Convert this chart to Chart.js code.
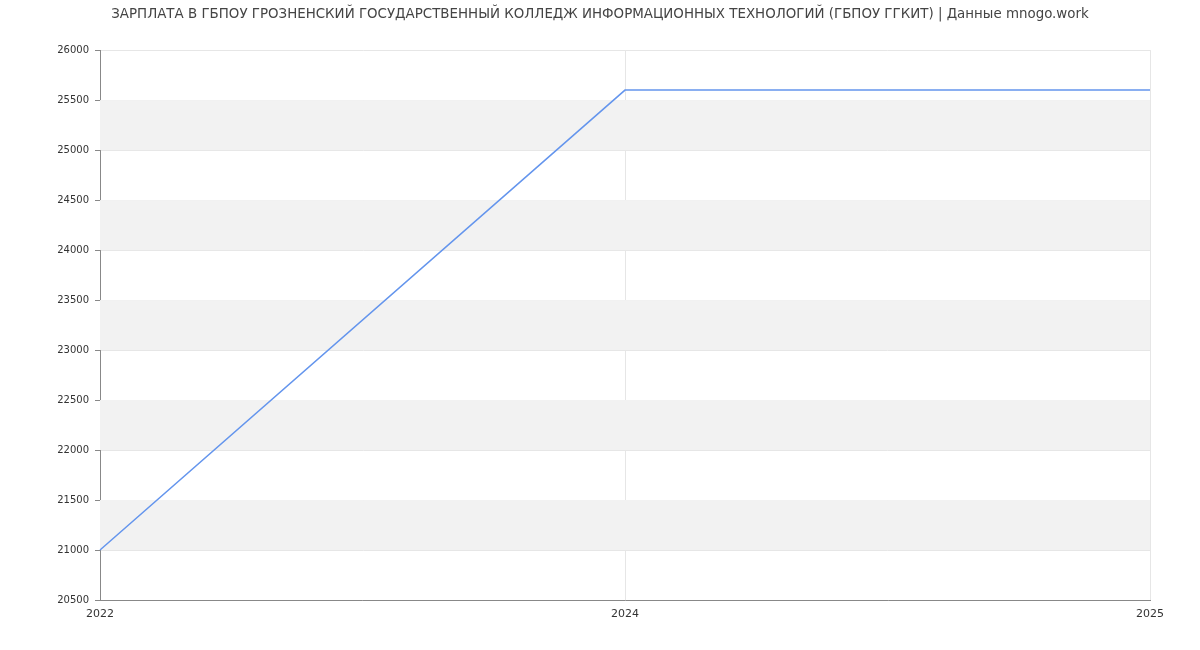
<!DOCTYPE html>
<html>
<head>
<meta charset="utf-8">
<script src="https://cdn.jsdelivr.net/npm/chart.js@4"></script>
<style>
  html, body { margin: 0; padding: 0; background: #fff; }
  #wrap { width: 1200px; height: 650px; }
</style>
</head>
<body>
<div id="wrap"><canvas id="chart" width="1200" height="650"></canvas></div>
<script>
const chartTitle = "ЗАРПЛАТА В ГБПОУ ГРОЗНЕНСКИЙ ГОСУДАРСТВЕННЫЙ КОЛЛЕДЖ ИНФОРМАЦИОННЫХ ТЕХНОЛОГИЙ (ГБПОУ ГГКИТ) | Данные mnogo.work";
const years = ["2022", "2024", "2025"];
const salary = [21000, 25600, 25600];
const yMin = 20500;
const yMax = 26000;
const yStep = 500;

// grey bands between every other pair of grid lines
const bandPlugin = {
  id: "bands",
  beforeDatasetsDraw(chart) {
    const { ctx, chartArea } = chart;
    const y = chart.scales.y;
    ctx.save();
    ctx.fillStyle = "#f2f2f2";
    for (let v = 21000; v < yMax; v += 2 * yStep) {
      const top = y.getPixelForValue(v + yStep);
      const bottom = y.getPixelForValue(v);
      ctx.fillRect(chartArea.left, top, chartArea.right - chartArea.left, bottom - top);
    }
    ctx.restore();
  },
};

new Chart(document.getElementById("chart"), {
  type: "line",
  plugins: [bandPlugin],
  data: {
    labels: years,
    datasets: [
      {
        data: salary,
        borderColor: "#6495ed",
        borderWidth: 1.5,
        pointRadius: 0,
        fill: false,
        tension: 0,
      },
    ],
  },
  options: {
    responsive: false,
    animation: false,
    layout: { padding: 0 },
    plugins: {
      legend: { display: false },
      tooltip: { enabled: false },
      title: {
        display: true,
        text: chartTitle,
        color: "#444",
        font: { family: "DejaVu Sans", size: 13.4, weight: "normal" },
        padding: { top: 6, bottom: 28 },
      },
    },
    scales: {
      x: {
        type: "category",
        offset: false,
        grid: { color: "#e6e6e6", drawTicks: false },
        border: { color: "#888", width: 1 },
        ticks: {
          color: "#333",
          font: { family: "DejaVu Sans", size: 11 },
          padding: 8,
          maxRotation: 0,
        },
        afterFit(scale) { scale.height = 50; },
      },
      y: {
        min: yMin,
        max: yMax,
        grid: { color: "#e6e6e6", tickLength: 5, tickColor: "#888" },
        border: { color: "#888", width: 1 },
        ticks: {
          stepSize: yStep,
          color: "#333",
          font: { family: "DejaVu Sans", size: 10 },
          padding: 6,
          callback: (v) => String(v),
        },
        afterFit(scale) { scale.width = 100; },
      },
      // empty right-hand axis, only reserves the right margin
      yRight: {
        position: "right",
        min: yMin,
        max: yMax,
        grid: { display: false },
        border: { display: false },
        ticks: { display: false },
        afterFit(scale) { scale.width = 50; },
      },
    },
  },
});
</script>
</body>
</html>
